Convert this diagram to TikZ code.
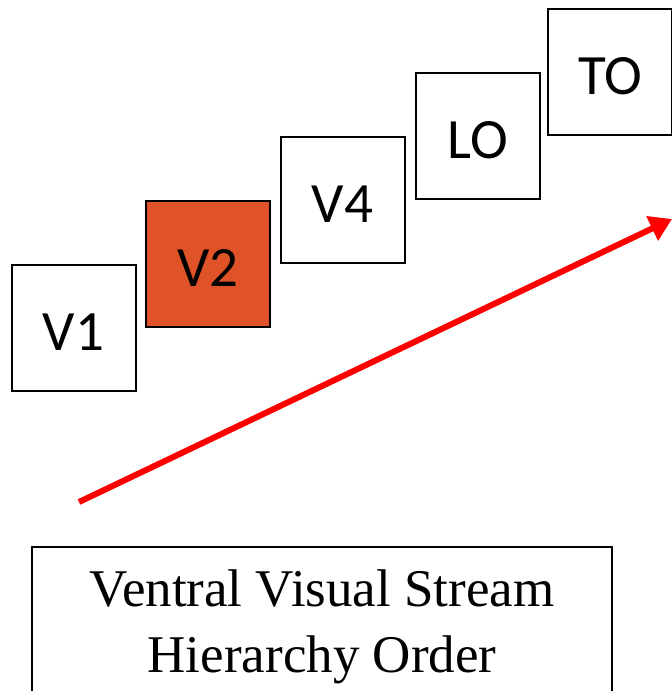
\documentclass[tikz,border=0pt]{standalone}
\usepackage{fontspec}
\setmainfont{Liberation Serif}
\newfontfamily\boxfont{Carlito}
\usetikzlibrary{arrows.meta}
\definecolor{vtwo}{RGB}{224,83,41}
\begin{document}
\begin{tikzpicture}[x=1pt,y=-1pt,
  area/.style={draw=black,line width=2pt,minimum width=124pt,minimum height=126pt,inner sep=0pt,
    text depth=0pt,
    label={[font=\boxfont\fontsize{57}{60}\selectfont,anchor=center,yshift=-5pt]center:#1}},
  flow/.style={draw=red,line width=6pt,-{Triangle[length=22pt,width=26pt]}},
  caption/.style={draw=black,line width=2pt,minimum width=580pt,minimum height=160pt,inner sep=0pt,
    anchor=north west}]
\useasboundingbox (0,0) rectangle (672,691);
\node[area=V1] (v1) at (73.5,327.5) {};
\node[area=V2,fill=vtwo] (v2) at (208,263.5) {};
\node[area=V4] (v4) at (342.5,199.5) {};
\node[area=LO] (lo) at (477.5,135.5) {};
\node[area=TO] (to) at (610,71.5) {};
\coordinate (s) at (79,502);
\coordinate (e) at (672,219);
\draw[flow] (s) -- (e);
\node[caption] (cap) at (31,546) {};
\node[font=\fontsize{53}{66}\selectfont,align=center] (txt) at (322,627) {Ventral Visual Stream\\Hierarchy Order};
\end{tikzpicture}
\end{document}
